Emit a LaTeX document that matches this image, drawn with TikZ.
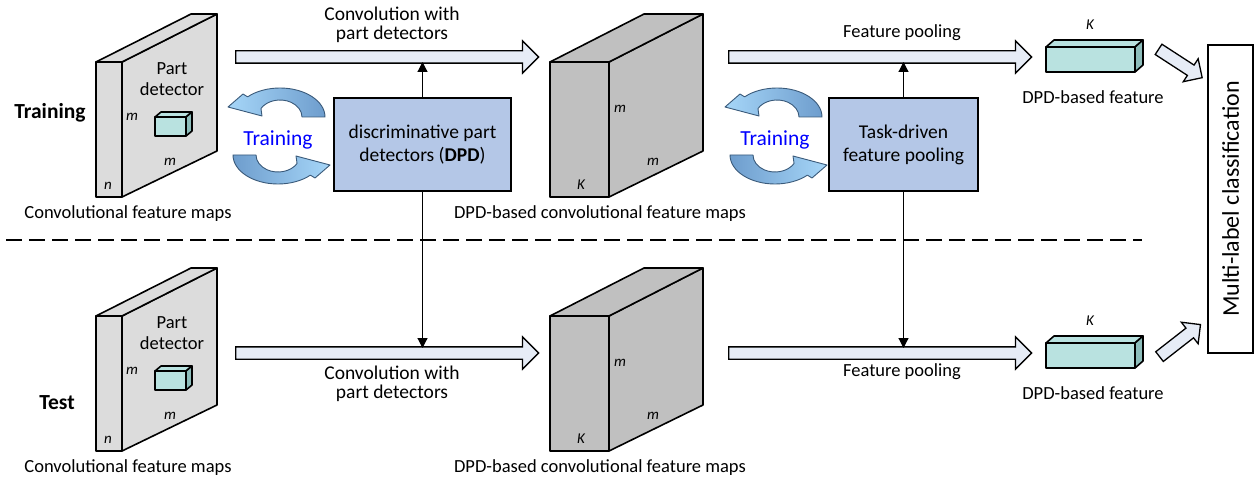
\documentclass[tikz,border=0pt]{standalone}
\usepackage{fontspec}
\setmainfont{Carlito}
\usetikzlibrary{shapes.arrows,arrows.meta}

\definecolor{slabgray}{HTML}{DCDCDC}
\definecolor{blockgray}{HTML}{C0C0C0}
\definecolor{cubeteal}{HTML}{B9E2E0}
\definecolor{cubeside}{HTML}{8DBDBB}
\definecolor{boxblue}{HTML}{B4C7E7}
\definecolor{arrowfill}{HTML}{E6ECF6}
\definecolor{cyclight}{HTML}{A6D6F8}
\definecolor{cycdark}{HTML}{6E9DCD}
\definecolor{cycline}{HTML}{3A5A7A}

\tikzset{
  face/.style={draw=black, line width=1.6pt, line join=round},
  lbl/.style={font=\fontsize{18.5}{21}\selectfont, align=center, inner sep=0},
  dimlbl/.style={font=\fontsize{15}{17}\selectfont\itshape, inner sep=0},
  boxlbl/.style={draw=black, line width=1.6pt, fill=boxblue, align=center,
    font=\fontsize{19.5}{23}\selectfont, inner sep=0},
  bigarrow/.style={single arrow, draw=black, line width=1.3pt, fill=arrowfill,
    minimum height=303pt, inner xsep=0pt, inner ysep=5.5pt,
    single arrow head extend=10pt, single arrow tip angle=90, anchor=tail},
  smallarrow/.style={single arrow, draw=black, line width=1.3pt, fill=arrowfill,
    minimum height=52pt, inner xsep=0pt, inner ysep=5.5pt,
    single arrow head extend=7.5pt, single arrow tip angle=90, anchor=tail},
  thin/.style={line width=1.2pt, -{Triangle[length=10pt,width=10pt]}},
  cyc/.style={draw=cycline, line width=0.9pt, line join=round}
}

\begin{document}
\begin{tikzpicture}[x=1pt, y=1pt]
\useasboundingbox (0,0) rectangle (1255,-481);

% feature map slabs and DPD-based blocks, training row and test row
\foreach \dy/\row in {0/tr, -254/te}{
  \begin{scope}[yshift=\dy pt]
    % convolutional feature maps
    \filldraw[face, fill=slabgray] (96,-62) rectangle (122,-197);
    \filldraw[face, fill=slabgray] (122,-62) -- (217,-14) -- (217,-151) -- (122,-197) -- cycle;
    \filldraw[face, fill=slabgray] (96,-62) -- (191,-14) -- (217,-14) -- (122,-62) -- cycle;
    % part detector
    \filldraw[face, fill=cubeteal] (155,-117) rectangle (186,-136);
    \filldraw[face, fill=cubeteal] (155,-117) -- (161,-112) -- (192,-112) -- (186,-117) -- cycle;
    \filldraw[face, fill=cubeside] (186,-117) -- (192,-112) -- (192,-131) -- (186,-136) -- cycle;
    \node[lbl] (part\row) at (172,-79) {Part\\detector};
    \node[dimlbl] (mA\row) at (132,-117) {m};
    \node[dimlbl] (mB\row) at (170,-162) {m};
    \node[dimlbl] (n\row) at (108,-186) {n};
    \node[lbl] (maps\row) at (128,-214) {Convolutional feature maps};
    % DPD-based convolutional feature maps
    \filldraw[face, fill=blockgray] (550,-62) rectangle (609,-197);
    \filldraw[face, fill=blockgray] (609,-62) -- (703,-14) -- (703,-151) -- (609,-197) -- cycle;
    \filldraw[face, fill=blockgray] (550,-62) -- (644,-14) -- (703,-14) -- (609,-62) -- cycle;
    \node[dimlbl] (mC\row) at (620,-109) {m};
    \node[dimlbl] (mD\row) at (653,-162) {m};
    \node[dimlbl] (K\row) at (581,-185) {K};
    \node[lbl] (dpdmaps\row) at (600,-214) {DPD-based convolutional feature maps};
  \end{scope}
}

% DPD-based feature vectors
\foreach \dy/\row in {0/tr, -296/te}{
  \begin{scope}[yshift=\dy pt]
    \filldraw[face, fill=cubeteal] (1046,-47) rectangle (1135,-72);
    \filldraw[face, fill=cubeteal] (1046,-47) -- (1054,-40) -- (1143,-40) -- (1135,-47) -- cycle;
    \filldraw[face, fill=cubeside] (1135,-47) -- (1143,-40) -- (1143,-65) -- (1135,-72) -- cycle;
    \node[dimlbl] (Kf\row) at (1090,-25) {K};
    \node[lbl] (feat\row) at (1093,-97) {DPD-based feature};
  \end{scope}
}

\node[font=\fontsize{21.5}{24}\selectfont\bfseries, inner sep=0] (train) at (50,-113) {Training};
\node[font=\fontsize{21.5}{24}\selectfont\bfseries, inner sep=0] (test) at (57,-403) {Test};

% block arrows
\node[bigarrow] (convtr) at (235,-57) {};
\node[bigarrow] (pooltr) at (728,-57) {};
\node[bigarrow] (convte) at (235,-353) {};
\node[bigarrow] (poolte) at (728,-353) {};
\node[lbl, font=\fontsize{19.5}{19}\selectfont] (convtxttr) at (392,-25) {Convolution with\\part detectors};
\node[lbl, font=\fontsize{19.5}{19}\selectfont] (convtxtte) at (392,-384) {Convolution with\\part detectors};
\node[lbl] (pooltxttr) at (902,-33) {Feature pooling};
\node[lbl] (pooltxtte) at (902,-372) {Feature pooling};

% learned modules
\node[boxlbl, minimum width=177pt, minimum height=93pt] (dpd) at (422.5,-144.5)
  {discriminative part\\detectors (\textbf{DPD})};
\node[boxlbl, minimum width=149pt, minimum height=93pt] (pool) at (903.5,-144.5)
  {Task-driven\\feature pooling};
\coordinate (convtrin) at (422.5,-62);
\coordinate (convtein) at (422.5,-348);
\coordinate (pooltrin) at (903.5,-62);
\coordinate (pooltein) at (903.5,-348);
\draw[thin] (dpd.north) -- (convtrin);
\draw[thin] (dpd.south) -- (convtein);
\draw[thin] (pool.north) -- (pooltrin);
\draw[thin] (pool.south) -- (pooltein);

% training cycles
\foreach \cx/\nm in {0/a, 497/b}{
  \begin{scope}[xshift=\cx pt]
    \shade[cyc, left color=cyclight, right color=cycdark]
      ([shift={(280,-117)}]0:45 and 29) arc[start angle=0, end angle=136, x radius=45, y radius=29]
      -- (243,-94) -- (228,-107) -- (262,-116) -- ([shift={(280,-117)}]150:22 and 17)
      arc[start angle=150, end angle=0, x radius=22, y radius=17] -- cycle;
    \shade[cyc, rotate around={180:(279,-136)}, left color=cycdark, right color=cyclight]
      ([shift={(280,-117)}]0:45 and 29) arc[start angle=0, end angle=136, x radius=45, y radius=29]
      -- (243,-94) -- (228,-107) -- (262,-116) -- ([shift={(280,-117)}]150:22 and 17)
      arc[start angle=150, end angle=0, x radius=22, y radius=17] -- cycle;
    \node[font=\fontsize{21.5}{24}\selectfont, text=blue, inner sep=0] (cyc\nm) at (278,-140) {Training};
  \end{scope}
}

% training / test separator
\draw[line width=1.8pt, dash pattern=on 16pt off 7pt] (6,-240) -- (1142,-240);

% classifier
\node[draw=black, line width=1.6pt, minimum width=45pt, minimum height=308pt, inner sep=0] (cls) at (1230.5,-199) {};
\node[rotate=90, font=\fontsize{24}{28}\selectfont, inner sep=0] (clstxt) at (cls.center) {Multi-label classification};
\node[smallarrow, rotate=-33] (totr) at (1158,-49) {};
\node[smallarrow, rotate=38] (tote) at (1159,-357) {};
\end{tikzpicture}
\end{document}
